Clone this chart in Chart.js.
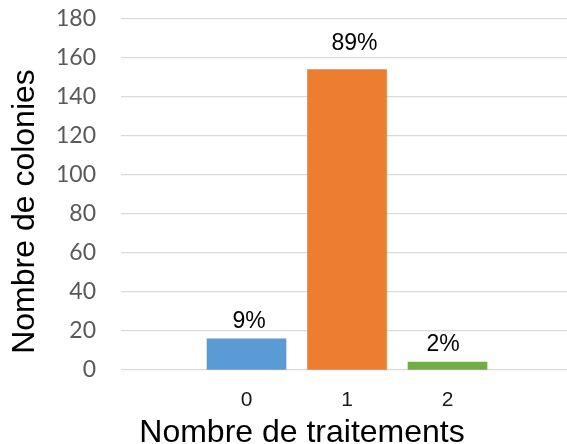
<!DOCTYPE html>
<html>
<head>
<meta charset="utf-8">
<script src="https://cdn.jsdelivr.net/npm/chart.js@4"></script>
<style>
  html, body { margin: 0; padding: 0; background: #ffffff; }
  #wrap { width: 567px; height: 444px; }
</style>
</head>
<body>
<div id="wrap"><canvas id="c" width="567" height="444"></canvas></div>
<script>
// ---- data ----
const categories = [0, 1, 2];
const tickLabels = ["0", "1", "2"];
const colonies = [16, 154, 4];
const percentLabels = ["9%", "89%", "2%"];
const yTicks = [0, 20, 40, 60, 80, 100, 120, 140, 160, 180];
const xTitle = "Nombre de traitements";
const yTitle = "Nombre de colonies";

// ---- styles ----
const barColors = ["#5B9BD5", "#ED7D31", "#70AD47"];
const labelShift = [{dx: 2.5, gap: 11}, {dx: 7.5, gap: 20}, {dx: -4.5, gap: 11}];

const labelsPlugin = {
  id: 'barLabels',
  afterDatasetsDraw(chart) {
    const ctx = chart.ctx;
    const meta = chart.getDatasetMeta(0);
    ctx.save();
    ctx.font = '23px "Liberation Sans", Arial, sans-serif';
    ctx.fillStyle = '#000000';
    ctx.textAlign = 'center';
    ctx.textBaseline = 'alphabetic';
    meta.data.forEach((bar, i) => {
      const s = labelShift[i];
      ctx.fillText(percentLabels[i], bar.x + s.dx, bar.y - s.gap);
    });
    ctx.restore();
  }
};

const titlesPlugin = {
  id: 'axisTitles',
  afterDraw(chart) {
    const ctx = chart.ctx;
    ctx.save();
    ctx.font = '32px "Liberation Sans", Arial, sans-serif';
    ctx.fillStyle = '#000000';
    ctx.textAlign = 'center';
    ctx.textBaseline = 'alphabetic';
    ctx.fillText(xTitle, 302, 442);
    ctx.translate(34, 211.5);
    ctx.rotate(-Math.PI / 2);
    ctx.fillText(yTitle, 0, 0);
    ctx.restore();
  }
};

new Chart(document.getElementById('c'), {
  type: 'bar',
  data: {
    datasets: [{
      data: categories.map((c, i) => ({x: c, y: colonies[i]})),
      backgroundColor: barColors,
      borderWidth: 0,
      barThickness: 79
    }]
  },
  plugins: [labelsPlugin, titlesPlugin],
  options: {
    responsive: false,
    animation: false,
    devicePixelRatio: 1,
    layout: { padding: { top: 19, right: 0, bottom: 0, left: 0 } },
    plugins: {
      legend: { display: false },
      tooltip: { enabled: false },
      title: { display: false }
    },
    scales: {
      x: {
        type: 'linear',
        offset: false,
        min: -1.249,
        max: 3.189,
        grid: { display: false, offset: false },
        border: { display: false },
        afterBuildTicks(scale) {
          scale.ticks = categories.map(v => ({ value: v }));
        },
        afterFit(scale) { scale.height = 74; },
        ticks: {
          autoSkip: false,
          maxRotation: 0,
          padding: 10,
          color: '#1a1a1a',
          font: { family: '"Liberation Sans", Arial, sans-serif', size: 21 },
          callback(value) {
            const i = categories.indexOf(value);
            return i >= 0 ? tickLabels[i] : '';
          }
        }
      },
      y: {
        min: 0,
        max: 180,
        afterBuildTicks(scale) {
          scale.ticks = yTicks.map(v => ({ value: v }));
        },
        afterFit(scale) {
          scale.width = 121;
          scale.paddingTop = 0;
          scale.paddingBottom = 0;
        },
        grid: { color: '#d9d9d9', lineWidth: 1.3, drawTicks: false },
        border: { display: false },
        ticks: {
          padding: 25,
          color: '#595959',
          font: { family: 'Lato, "Open Sans", sans-serif', size: 23 }
        }
      }
    }
  }
});
</script>
</body>
</html>
